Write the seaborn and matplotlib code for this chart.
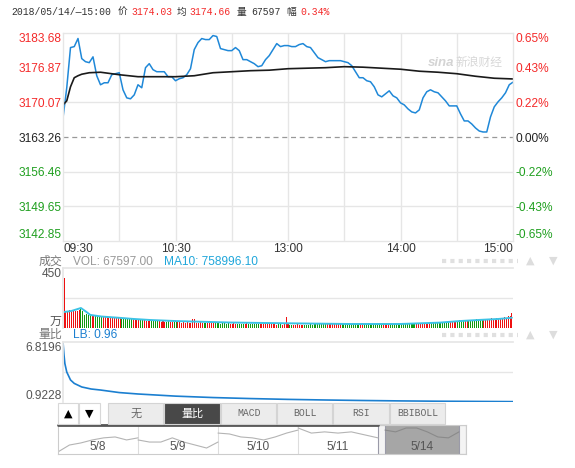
import numpy as np
import matplotlib
matplotlib.use("Agg")
import matplotlib.pyplot as plt
from matplotlib.patches import Rectangle
from matplotlib.lines import Line2D
import seaborn as sns

# 上证指数 2018/05/14 分时图（价格・均价・成交量・量比）
sns.set_theme(style="white")
plt.rcParams["font.family"] = ["Liberation Sans", "Noto Sans CJK SC", "DejaVu Sans"]

PREV_CLOSE = 3163.26
PRICE_TICKS = [3142.85, 3149.65, 3156.46, 3163.26, 3170.07, 3176.87, 3183.68]
PCT_LABELS = ["-0.65%", "-0.43%", "-0.22%", "0.00%", "0.22%", "0.43%", "0.65%"]
TIME_TICKS = [0, 60, 120, 180, 240]
TIME_LABELS = ["09:30", "10:30", "13:00", "14:00", "15:00"]

# 价格（每2分钟）
price_min = np.arange(0, 241, 2)
price = [
    3167.01, 3172.93, 3180.82, 3181.01, 3182.60, 3178.65, 3178.05, 3177.86, 3179.00, 3175.29,
    3173.52, 3173.91, 3173.91, 3175.49, 3175.69, 3175.88, 3172.53, 3170.95, 3170.76, 3171.54,
    3173.52, 3172.93, 3176.87, 3177.66, 3176.48, 3176.08, 3176.08, 3176.08, 3175.10, 3175.10,
    3174.31, 3174.70, 3174.90, 3175.49, 3176.67, 3180.42, 3181.80, 3182.59, 3182.39, 3182.39,
    3183.18, 3182.99, 3180.62, 3180.42, 3180.22, 3180.22, 3180.82, 3180.22, 3178.45, 3178.45,
    3178.05, 3177.66, 3177.07, 3177.26, 3178.45, 3179.24, 3180.42, 3181.60, 3181.01, 3181.21,
    3181.21, 3181.01, 3181.01, 3181.41, 3181.60, 3181.01, 3180.82, 3179.83, 3178.84, 3178.45,
    3178.05, 3178.25, 3178.25, 3178.25, 3178.25, 3178.05, 3177.86, 3177.26, 3176.08, 3174.90,
    3174.90, 3174.31, 3174.11, 3173.12, 3171.54, 3171.15, 3171.74, 3172.33, 3171.35, 3170.95,
    3169.97, 3169.57, 3168.78, 3168.19, 3167.99, 3168.59, 3170.95, 3172.14, 3172.53, 3172.14,
    3171.94, 3171.15, 3170.36, 3169.37, 3169.37, 3169.37, 3167.80, 3166.42, 3166.42, 3165.82,
    3165.04, 3164.44, 3164.25, 3164.25, 3167.21, 3169.18, 3170.16, 3170.95, 3171.94, 3173.52,
    3174.03,
]

# 均价
avg_min = [0, 2, 4, 6, 8, 10, 14, 20, 30, 40, 50, 60, 70, 80, 90, 100, 110, 120,
           130, 140, 150, 160, 170, 180, 190, 200, 210, 220, 230, 240]
avg_price = [3169.57, 3170.36, 3173.12, 3174.90, 3175.29, 3175.59, 3175.88, 3175.98,
             3175.49, 3175.10, 3175.10, 3175.10, 3175.29, 3175.88, 3176.08, 3176.28,
             3176.38, 3176.67, 3176.77, 3176.87, 3177.07, 3176.97, 3176.77, 3176.57,
             3176.18, 3175.98, 3175.69, 3175.19, 3174.80, 3174.66]

# 成交量（万，每分钟）
vol = [
    375,
    120, 128, 132, 126, 135, 130, 128, 138, 140, 125,
    100, 105, 98, 95, 100, 92, 90, 88, 86, 92,
    85, 80, 82, 78, 80, 76, 78, 75, 72, 74,
    70, 72, 68, 66, 70, 65, 64, 66, 62, 60,
    60, 58, 62, 56, 55, 58, 54, 52, 55, 50,
    50, 48, 52, 47, 46, 50, 45, 44, 48, 42,
    42, 45, 40, 43, 40, 42, 38, 40, 70, 66,
    40, 38, 42, 36, 38, 40, 36, 35, 38, 34,
    35, 36, 34, 33, 36, 34, 32, 35, 33, 32,
    34, 32, 30, 33, 31, 32, 30, 34, 31, 30,
    30, 32, 28, 30, 31, 29, 28, 30, 27, 29,
    28, 27, 30, 26, 28, 27, 26, 29, 85, 28,
    25, 26, 24, 25, 27, 24, 26, 25, 23, 25,
    26, 28, 25, 30, 27, 29, 32, 28, 30, 27,
    30, 28, 32, 29, 31, 30, 28, 33, 29, 30,
    31, 29, 28, 32, 30, 33, 29, 31, 30, 35,
    32, 30, 34, 31, 33, 30, 32, 29, 31, 30,
    32, 30, 29, 33, 31, 30, 32, 30, 28, 31,
    30, 32, 29, 31, 33, 30, 32, 34, 31, 33,
    35, 33, 36, 38, 34, 37, 40, 38, 36, 42,
    45, 40, 44, 48, 42, 50, 46, 52, 48, 55,
    50, 58, 55, 60, 56, 62, 58, 60, 62, 58,
    64, 60, 66, 62, 68, 65, 70, 66, 72, 68,
    70, 74, 72, 78, 75, 80, 76, 88, 90, 112,
]
ma10_min = [0, 4, 9, 12, 14, 20, 29, 37, 46, 60, 73, 89, 105, 121, 153, 180, 201, 212, 222, 233, 240]
ma10 = [120, 128, 150, 120, 98, 86, 77, 68, 60, 52, 47, 41, 38, 35, 30, 30, 40, 52, 60, 68, 77]

# 量比
lb_min = [0, 0.5, 1, 2, 4, 6, 10, 15, 20, 30, 40, 60, 80, 100, 120, 140, 160, 180, 200, 220, 240]
lb = [6.82, 5.6, 4.7, 3.87, 3.09, 2.75, 2.40, 2.2, 2.10, 1.85, 1.71, 1.50, 1.36, 1.26,
      1.18, 1.12, 1.07, 1.03, 1.00, 0.98, 0.96]

# 下方5日缩略图
nav_days = ["5/8", "5/9", "5/10", "5/11", "5/14"]
spark_58 = [3100, 3123, 3130, 3140, 3147, 3150, 3140, 3147]
spark_59 = [3140, 3133, 3133, 3147, 3133, 3123, 3113, 3133]
spark_510 = [3163, 3160, 3150, 3147, 3140, 3150, 3163, 3173]
spark_511 = [3180, 3163, 3167, 3163, 3167, 3157, 3147]
spark_514 = [3173, 3167, 3180, 3180, 3167, 3150, 3147, 3167]

buttons = ["无", "量比", "MACD", "BOLL", "RSI", "BBIBOLL"]

RED = "#f42a2a"
GREEN = "#1f9f1f"
GRID = "#e6e6e6"
W, H = 575, 468


def fx(px):
    return px / W


def fy(py):
    return 1 - py / H


fig = plt.figure(figsize=(5.75, 4.68), dpi=100)
fig.patch.set_facecolor("white")

# ---------- 分时价格 ----------
ax_p = fig.add_axes([fx(63), fy(241), 450 / W, 208 / H])
for m in range(30, 240, 30):
    ax_p.axvline(m, color=GRID, lw=1, zorder=0)
for t in PRICE_TICKS[1:-1]:
    if t == PREV_CLOSE:
        ax_p.axhline(t, color="#999999", lw=0.9, ls=(0, (4, 3)), zorder=0)
    elif t != 3176.87:
        ax_p.axhline(t, color=GRID, lw=1, zorder=0)
sns.lineplot(x=price_min, y=price, ax=ax_p, color="#1f88d8", linewidth=1.1)
sns.lineplot(x=avg_min, y=avg_price, ax=ax_p, color="#1a1a1a", linewidth=1.2)
ax_p.set_xlim(0, 240)
ax_p.set_ylim(PRICE_TICKS[0], PRICE_TICKS[-1])
ax_p.set_xlabel("")
ax_p.set_ylabel("")

tick_colors = [GREEN] * 3 + ["#222222"] + [RED] * 3
ax_p.set_yticks(PRICE_TICKS)
ax_p.set_yticklabels([f"{t:.2f}" for t in PRICE_TICKS])
ax_p.tick_params(axis="y", length=0, pad=1, labelsize=8.6)
for lab, c in zip(ax_p.get_yticklabels(), tick_colors):
    lab.set_color(c)
ax_p.get_yticklabels()[0].set_va("bottom")
ax_p.get_yticklabels()[-1].set_va("top")

ax_p.set_xticks(TIME_TICKS)
ax_p.set_xticklabels(TIME_LABELS)
ax_p.tick_params(axis="x", length=0, pad=1.5, labelsize=8.6, colors="#333333")
ax_p.get_xticklabels()[0].set_ha("left")
ax_p.get_xticklabels()[-1].set_ha("right")
for s in ax_p.spines.values():
    s.set_color(GRID)
    s.set_linewidth(1)

ax_r = ax_p.twinx()
ax_r.set_ylim(PRICE_TICKS[0], PRICE_TICKS[-1])
ax_r.set_yticks(PRICE_TICKS)
ax_r.set_yticklabels(PCT_LABELS)
ax_r.tick_params(axis="y", length=0, pad=1.5, labelsize=8.6)
for lab, c in zip(ax_r.get_yticklabels(), tick_colors):
    lab.set_color(c)
ax_r.get_yticklabels()[0].set_va("bottom")
ax_r.get_yticklabels()[-1].set_va("top")
for s in ax_r.spines.values():
    s.set_visible(False)

# 水印
fig.text(fx(428), fy(63), "sina", style="italic", weight="bold", color="#d4d4d4",
         fontsize=9.5, va="center")
fig.text(fx(456), fy(63), "新浪财经", color="#d8d8d8", fontsize=8.5, va="center")

# ---------- 成交量 ----------
vol_min = np.arange(len(vol))
vol_dir = np.repeat(np.sign(np.diff(price)), 2)
bar_colors = ["#ee1111"] + ["#ee1111" if d >= 0 else "#119911" for d in vol_dir]
ax_v = fig.add_axes([fx(63), fy(328), 450 / W, 60 / H])
ax_v.axhline(225, color=GRID, lw=1, zorder=0)
ax_v.bar(vol_min, vol, width=0.55, color=bar_colors, linewidth=0)
sns.lineplot(x=ma10_min, y=ma10, ax=ax_v, color="#3cc3e6", linewidth=1.4)
ax_v.set_xlim(-0.6, 240.6)
ax_v.set_ylim(0, 450)
ax_v.set_xticks([])
ax_v.set_yticks([0, 450])
ax_v.set_yticklabels(["万", "450"])
ax_v.tick_params(axis="y", length=0, pad=1, labelsize=8.6, colors="#555555")
ax_v.get_yticklabels()[0].set_va("bottom")
ax_v.get_yticklabels()[-1].set_va("top")
ax_v.set_xlabel("")
ax_v.set_ylabel("")
for k, s in ax_v.spines.items():
    s.set_color(GRID)
    s.set_visible(k in ("top", "left"))

fig.text(fx(62), fy(262), "成交", ha="right", va="center", fontsize=8.6, color="#777777")
fig.text(fx(73), fy(262), "VOL: 67597.00", ha="left", va="center", fontsize=8.6, color="#999999")
fig.text(fx(164), fy(262), "MA10: 758996.10", ha="left", va="center", fontsize=8.6, color="#1fa6da")

# ---------- 量比 ----------
ax_lb = fig.add_axes([fx(63), fy(402), 450 / W, 60 / H])
ax_lb.axhline((6.8196 + 0.9228) / 2, color=GRID, lw=1, zorder=0)
sns.lineplot(x=lb_min, y=lb, ax=ax_lb, color="#1b7fd0", linewidth=1.2)
ax_lb.set_xlim(0, 240)
ax_lb.set_ylim(0.9228, 6.8196)
ax_lb.set_xticks([])
ax_lb.set_yticks([0.9228, 6.8196])
ax_lb.set_yticklabels(["0.9228", "6.8196"])
ax_lb.tick_params(axis="y", length=0, pad=1, labelsize=8.6, colors="#555555")
ax_lb.get_yticklabels()[0].set_va("bottom")
ax_lb.get_yticklabels()[-1].set_va("top")
ax_lb.set_xlabel("")
ax_lb.set_ylabel("")
for k, s in ax_lb.spines.items():
    s.set_color(GRID)
    s.set_visible(k in ("top", "left"))

fig.text(fx(62), fy(335), "量比", ha="right", va="center", fontsize=8.6, color="#777777")
fig.text(fx(73), fy(335), "LB: 0.96", ha="left", va="center", fontsize=8.6, color="#1b7fd0")

# 右侧上下箭头与虚线条
for yy in (261, 335):
    fig.add_artist(Line2D([fx(442), fx(518)], [fy(yy), fy(yy)], color="#e0e0e0", lw=3,
                          ls=(0, (1, 1)), transform=fig.transFigure))
    fig.text(fx(530), fy(yy), "▲", ha="center", va="center", fontsize=8, color="#dddddd",
             family=["DejaVu Sans"])
    fig.text(fx(553), fy(yy), "▼", ha="center", va="center", fontsize=8, color="#dddddd",
             family=["DejaVu Sans"])

# ---------- 按钮 ----------
def box(x0, x1, y0, y1, face, edge):
    fig.add_artist(Rectangle((fx(x0), fy(y1)), (x1 - x0) / W, (y1 - y0) / H,
                             facecolor=face, edgecolor=edge, lw=0.8, transform=fig.transFigure))


box(58, 78, 403, 424, "white", "#d8d8d8")
box(79, 100, 403, 424, "white", "#d8d8d8")
fig.text(fx(68), fy(413.5), "▲", ha="center", va="center", fontsize=8, color="black",
         family=["DejaVu Sans"])
fig.text(fx(89.5), fy(413.5), "▼", ha="center", va="center", fontsize=8, color="black",
         family=["DejaVu Sans"])
btn_x = [108, 164, 221, 277, 333, 390, 446]
for i, name in enumerate(buttons):
    sel = name == "量比"
    box(btn_x[i], btn_x[i + 1] - 1, 403, 424, "#484848" if sel else "#ececec", "#d4d4d4")
    fig.text(fx((btn_x[i] + btn_x[i + 1]) / 2), fy(413.5), name, ha="center", va="center",
             fontsize=8 if sel or name == "无" else 7,
             color="white" if sel else "#666666",
             family=["Liberation Mono", "Noto Sans CJK SC"])

# ---------- 5日缩略图 ----------
ax_n = fig.add_axes([fx(58), fy(454), 408 / W, 29 / H])
ax_n.set_xlim(0, 5.1)
ax_n.set_ylim(3093, 3190)
ax_n.axvspan(4.0875, 5.0125, color="#a6a6a6", zorder=0)
for a, b in ((4.0, 4.0875), (5.0125, 5.1)):
    ax_n.axvspan(a, b, facecolor="#f4f4f4", edgecolor="#9a9aa8", lw=0.8, zorder=1)
for d in (1, 2, 3):
    ax_n.axvline(d, color="#dddddd", lw=0.8, zorder=0)
sparks = [spark_58, spark_59, spark_510, spark_511, spark_514]
for d, vals in enumerate(sparks):
    if d < 4:
        xs = np.linspace(d, d + 1, len(vals))
        col = "#b4b4b4"
    else:
        xs = np.linspace(4.0875, 5.0125, len(vals))
        col = "#8a8a8a"
    sns.lineplot(x=xs, y=vals, ax=ax_n, color=col, linewidth=0.8, zorder=2)
    cx = d + 0.5 if d < 4 else 4.55
    ax_n.text(cx, 0.24, nav_days[d], transform=ax_n.get_xaxis_transform(), ha="center",
              va="center", fontsize=8.6, color="#555555", zorder=3)
ax_n.plot([0, 4.0], [1, 1], transform=ax_n.get_xaxis_transform(), color="#555555", lw=2,
          clip_on=False, zorder=4)
ax_n.set_xticks([])
ax_n.set_yticks([])
ax_n.set_xlabel("")
ax_n.set_ylabel("")
for s in ax_n.spines.values():
    s.set_color("#cccccc")
    s.set_linewidth(0.8)

# ---------- 顶部行情 ----------
HEAD = ["Liberation Mono", "Noto Sans CJK SC"]
header = [(11, "2018/05/14/—15:00", "#333333"), (118, "价", "#333333"),
          (131, "3174.03", RED), (177, "均", "#333333"), (189, "3174.66", RED),
          (237, "量", "#333333"), (251, "67597", "#333333"), (286, "幅", "#333333"),
          (300, "0.34%", RED)]
for x, s, c in header:
    fig.text(fx(x), fy(12), s, ha="left", va="center", fontsize=7, color=c, family=HEAD)

fig.savefig("out.png", dpi=100)
